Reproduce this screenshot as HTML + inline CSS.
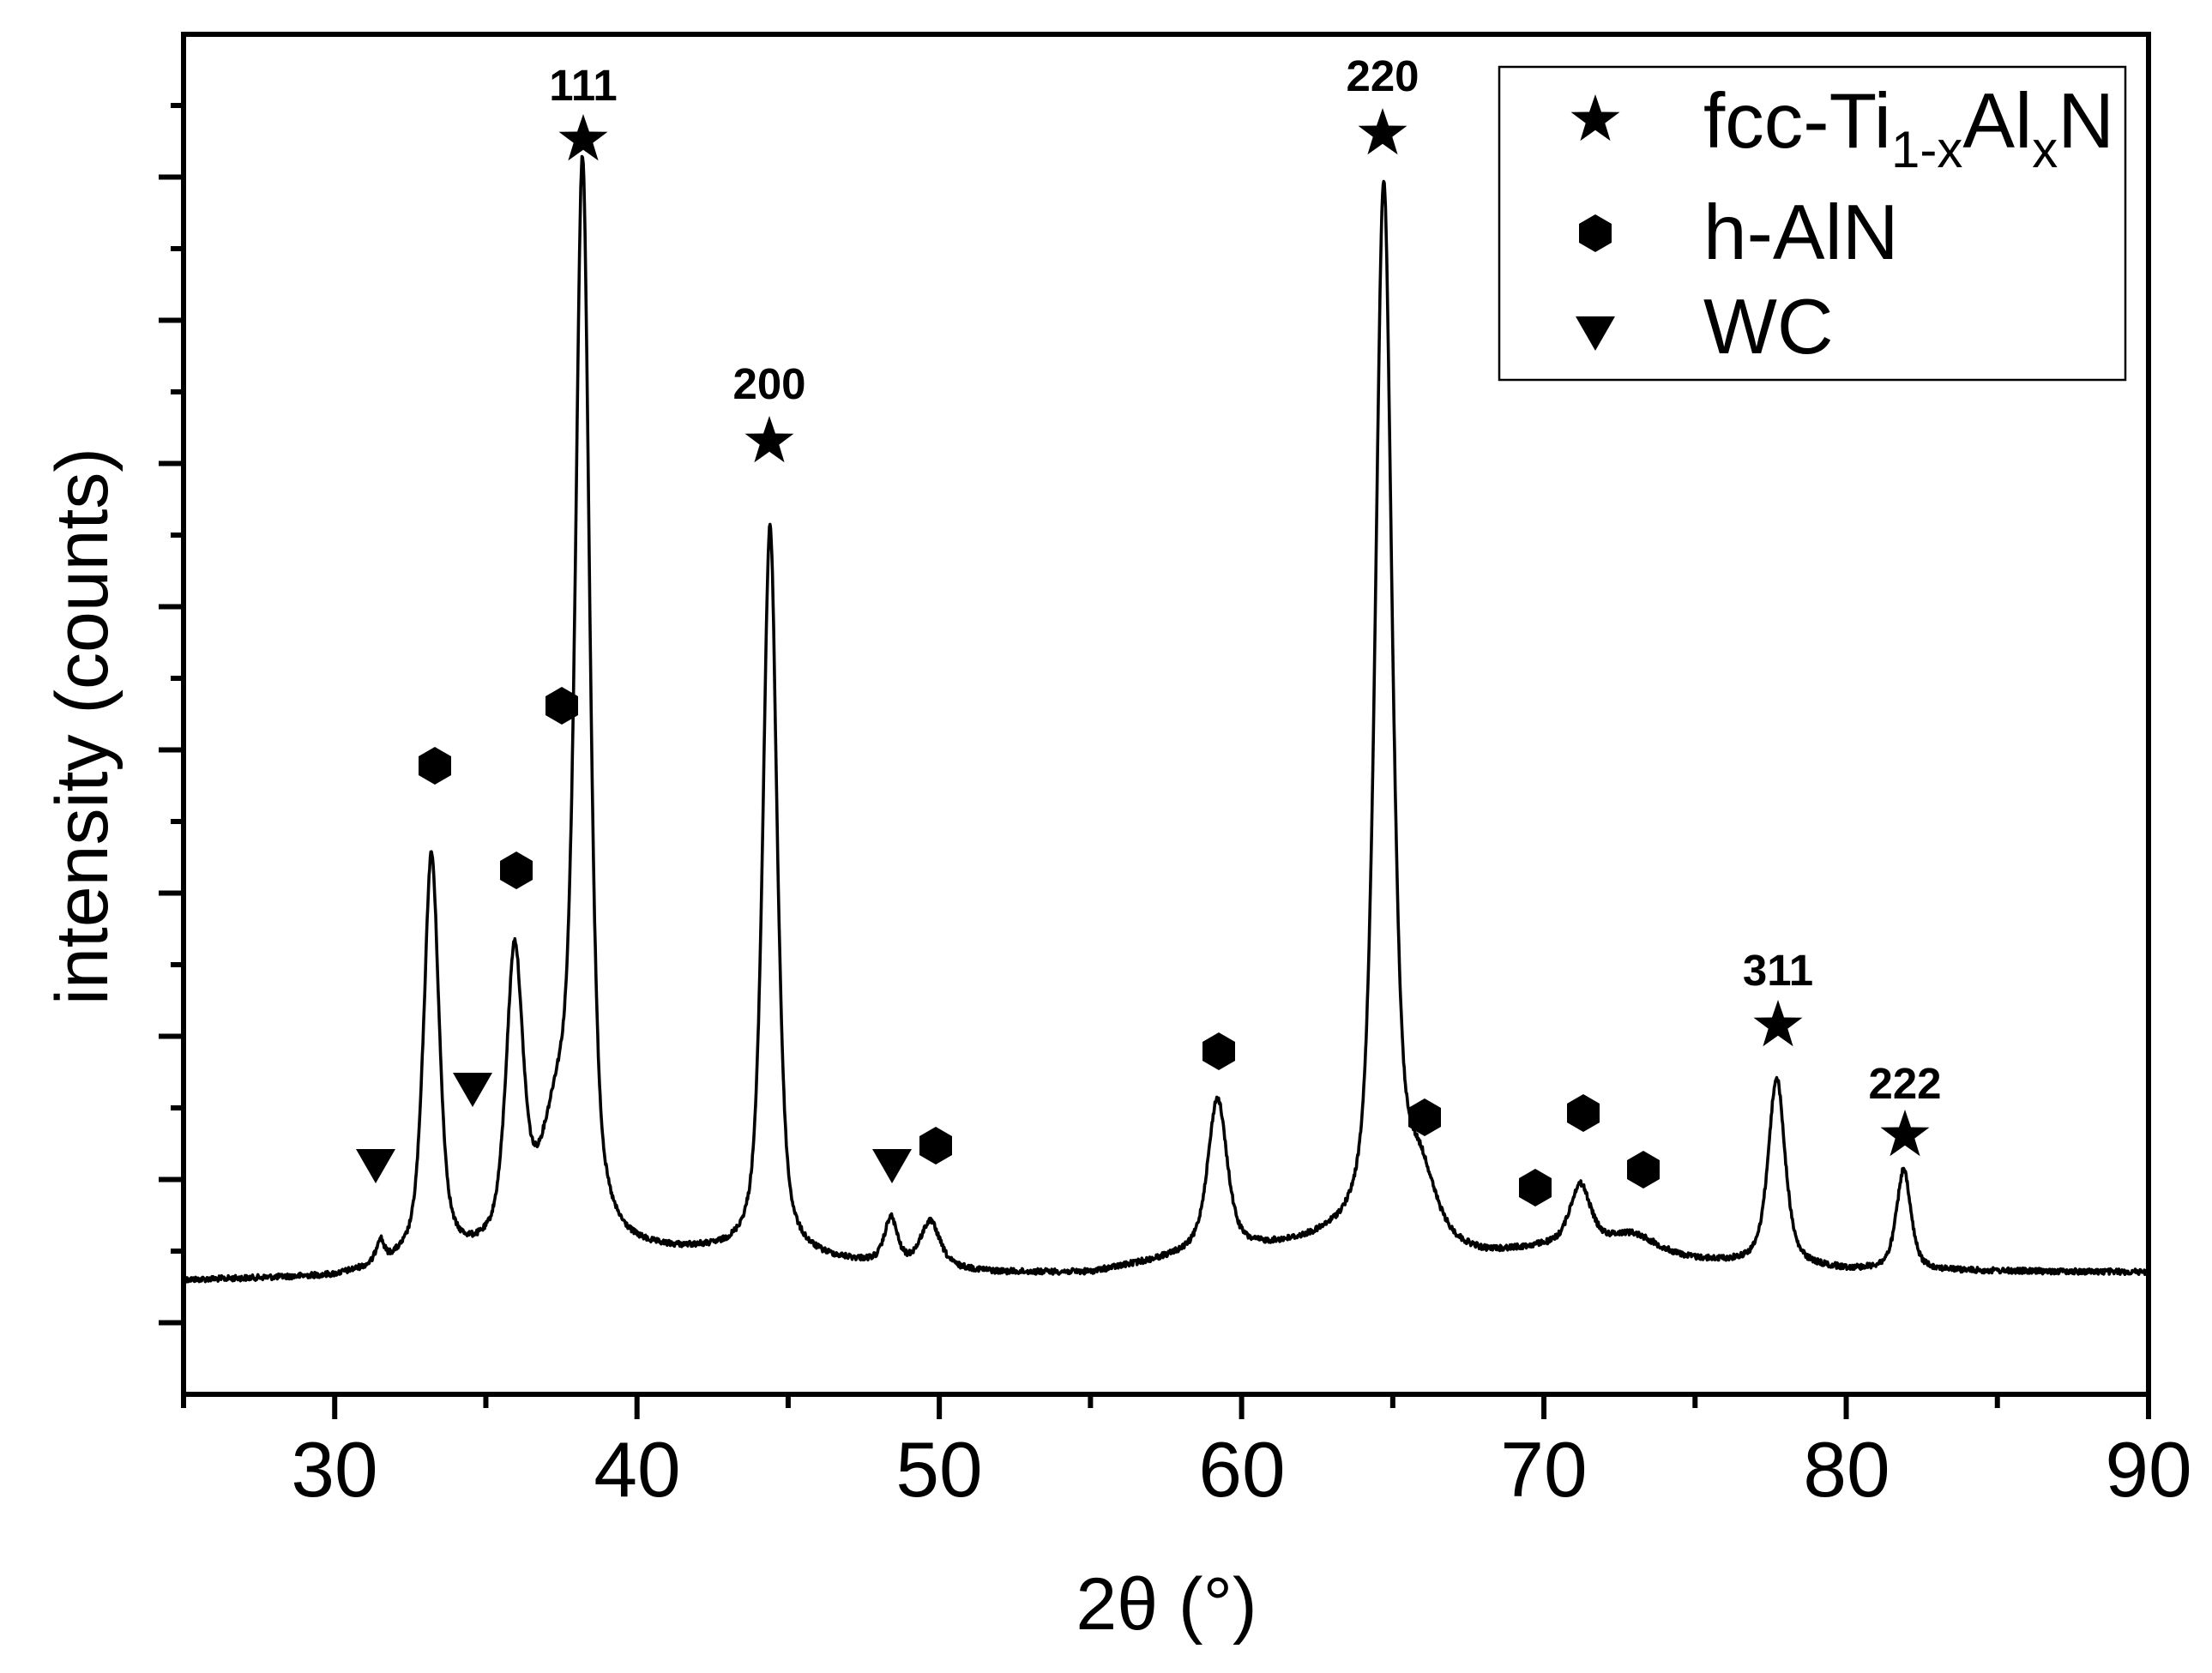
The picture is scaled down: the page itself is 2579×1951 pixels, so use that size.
<!DOCTYPE html>
<html><head><meta charset="utf-8">
<style>
html,body{margin:0;padding:0;background:#fff;}
svg{display:block;font-family:"Liberation Sans",Arial,sans-serif;}
</style></head>
<body>
<svg id="s" width="2579" height="1951" viewBox="0 0 2579 1951" xmlns="http://www.w3.org/2000/svg">
<defs>
<polygon id="star" points="0,-30 7,-9.5 28.5,-9.3 11.3,3.6 17.6,24.3 0,11.8 -17.6,24.3 -11.3,3.6 -28.5,-9.3 -7,-9.5"/>
<polygon id="hex" points="0,-22 19,-11 19,11 0,22 -19,11 -19,-11"/>
<polygon id="tri" points="-23,-19 23,-19 0,21"/>
</defs>
<rect x="0" y="0" width="2579" height="1951" fill="#fff"/>
<g id="ticks" stroke="#000" stroke-width="6"></g>
<rect x="214" y="40" width="2291" height="1586" fill="none" stroke="#000" stroke-width="6"/>
<path id="curve" fill="none" stroke="#000" stroke-width="3.6" stroke-linejoin="round"/>
<g font-size="91" text-anchor="middle">
<text x="390" y="1745">30</text><text x="743" y="1745">40</text><text x="1095" y="1745">50</text>
<text x="1448" y="1745">60</text><text x="1800" y="1745">70</text><text x="2153" y="1745">80</text><text x="2505" y="1745">90</text>
</g>
<text x="1360" y="1900" font-size="86" text-anchor="middle">2θ (°)</text>
<text transform="translate(125,847) rotate(-90)" font-size="86" text-anchor="middle">intensity (counts)</text>
<g font-size="51" font-weight="bold" text-anchor="middle">
<text x="680" y="117">111</text><text x="897" y="465">200</text><text x="1612" y="106">220</text>
<text x="2073" y="1149">311</text><text x="2221" y="1281">222</text>
</g>
<g fill="#000">
<use href="#star" x="680" y="163"/><use href="#star" x="897" y="515"/><use href="#star" x="1612" y="156"/>
<use href="#star" x="2073" y="1196"/><use href="#star" x="2221" y="1324"/>
<use href="#hex" x="507" y="893"/><use href="#hex" x="602" y="1015"/><use href="#hex" x="655" y="823"/>
<use href="#hex" x="1091" y="1336"/><use href="#hex" x="1421" y="1226"/><use href="#hex" x="1661" y="1303"/>
<use href="#hex" x="1790" y="1385"/><use href="#hex" x="1846" y="1298"/><use href="#hex" x="1916" y="1364"/>
<use href="#tri" x="438" y="1359"/><use href="#tri" x="551" y="1270"/><use href="#tri" x="1040" y="1359"/>
</g>
<rect x="1748" y="78" width="730" height="365" fill="#fff" stroke="#000" stroke-width="2.5"/>
<g fill="#000">
<use href="#star" x="1860" y="140"/>
<use href="#hex" x="1860" y="272"/>
<use href="#tri" x="1860" y="388"/>
</g>
<g font-size="91">
<text x="1986" y="172">fcc-Ti<tspan font-size="60" dy="23">1-x</tspan><tspan dy="-23">Al</tspan><tspan font-size="60" dy="23">x</tspan><tspan dy="-23">N</tspan></text>
<text x="1986" y="302">h-AlN</text>
<text x="1986" y="412">WC</text>
</g>
</svg>
<script>
(function(){
var ns="http://www.w3.org/2000/svg";
var g=document.getElementById('ticks');
function line(x1,y1,x2,y2){var l=document.createElementNS(ns,'line');l.setAttribute('x1',x1);l.setAttribute('y1',y1);l.setAttribute('x2',x2);l.setAttribute('y2',y2);g.appendChild(l);}
for(var v=25;v<=90;v+=5){var x=214+(v-25)*35.246;var major=(v%10==0);line(x,1626,x,1626+(major?29:16));}
for(var i=0;i<=18;i++){var y=123+i*83.5; if(y>1620)break; var major=(i%2==1); line(214,y,214-(major?29:15),y);}
var bpts=[[25,908],[30,906],[32,899],[36,893],[42,890],[46,895],[52,903],[55,903],[58,892],[63,882],[68,892],[70,887],[75,895],[80,901],[90,902]];
function base(x){for(var i=0;i<bpts.length-1;i++){if(x<=bpts[i+1][0]){var a=bpts[i],b=bpts[i+1];var t=(x-a[0])/(b[0]-a[0]);return a[1]+t*(b[1]-a[1]);}}return 902;}
var peaks=[[31.5,16,0.15],[33.2,288,0.3],[35.95,206,0.33],[37.4,85,0.7],[38.2,742,0.28],[44.4,518,0.28],[48.4,32,0.25],[49.7,32,0.38],[59.2,109,0.38],[64.7,750,0.33],[65.9,45,0.6],[71.2,45,0.42],[72.9,15,1.0],[77.7,133,0.33],[81.9,71,0.28]];
var seed=12345;function rnd(){seed=(seed*1103515245+12345)%2147483648;return seed/2147483648;}
var d="";
for(var x=25;x<=90;x+=0.02){
 var y=base(x);
 for(var k=0;k<peaks.length;k++){var p=peaks[k];var dx=(x-p[0])/p[2];var L=1/(1+dx*dx);var G=Math.exp(-0.693*dx*dx);y-=p[1]*(0.6*L+0.4*G);}
 y+=(rnd()-0.5)*4;
 var X=214+(x-25)*35.246, Y=y*1.645;
 d+=(d?"L":"M")+X.toFixed(1)+","+Y.toFixed(1);
}
document.getElementById('curve').setAttribute('d',d);
})();
</script>
</body></html>
